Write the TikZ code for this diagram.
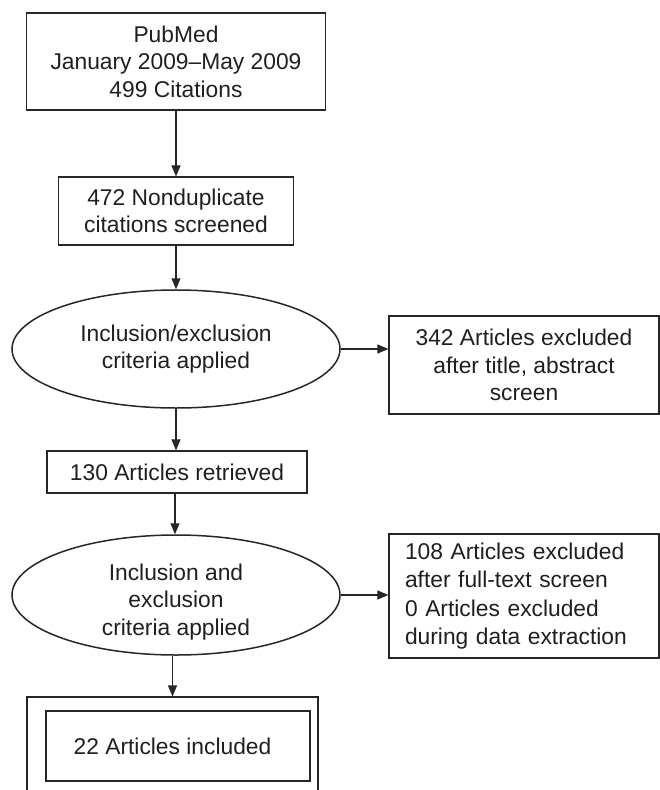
\documentclass[tikz,border=0pt]{standalone}
\usepackage{fontspec}
\setmainfont{Liberation Sans}
\usetikzlibrary{arrows.meta,shapes.geometric}
\begin{document}
\begin{tikzpicture}[x=1pt,y=-1pt,
  txt/.style={font=\fontsize{22.8}{27.5}\selectfont, text=black!88},
  box/.style={txt, draw=black!85, line width=1.2pt, rectangle, inner sep=0pt, align=center},
  ell/.style={draw=black!85, ellipse, line width=1.5pt, inner sep=0pt},
  arr/.style={draw=black!85, line width=1.1pt, -{Triangle[length=11pt,width=9pt]}}]
\useasboundingbox (0,0) rectangle (660,790);
\clip (0,0) rectangle (660,790);
% main column
\node[box, minimum width=299pt, minimum height=97pt] (top) at (176,61.5)
  {PubMed\\January 2009–May 2009\\499 Citations};
\node[box, minimum width=235pt, minimum height=68pt] (scr) at (176,211)
  {472 Nonduplicate\\citations screened};
\node[ell, minimum width=328pt, minimum height=118pt, txt, align=center] (e1) at (176,349)
  {Inclusion/exclusion\\criteria applied};
\node[box, minimum width=260pt, minimum height=42pt] (ret) at (177,472)
  {130 Articles retrieved};
\node[ell, minimum width=328pt, minimum height=120pt] (e2) at (176,595) {};
\node[txt, align=center, inner sep=0pt] (e2t) at (176,602)
  {Inclusion and\\exclusion\\criteria applied};
\node[draw=black!85, line width=1.1pt, rectangle, minimum width=291pt, minimum height=98pt, inner sep=0pt] (outer) at (172.5,746) {};
\node[box, line width=1.8pt, minimum width=264pt, minimum height=70pt] (inc) at (178,746)
  {\hspace*{-11pt}22 Articles included};
% side boxes
\node[box, minimum width=270pt, minimum height=98pt] (x1) at (524,365)
  {342 Articles excluded\\after title, abstract\\screen};
\node[box, align=left, font=\fontsize{22.8}{28.5}\selectfont, inner xsep=16pt, text width=238pt, minimum height=124pt] (x2) at (524,596)
  {108 Articles excluded\\after full-text screen\\0 Articles excluded\\during data extraction};
% connectors
\draw[arr] (top.south) -- (scr.north);
\draw[arr] (scr.south) -- (e1.north);
\draw[arr] (e1.south) -- (ret.north -| e1.south);
\draw[arr] ([xshift=-2pt]ret.south) -- ([xshift=-1pt]e2.north);
\draw[arr] (outer.north |- e2.south) -- (outer.north);
\draw[arr] (e1.east) -- (e1.east -| x1.west);
\draw[arr] (e2.east) -- (e2.east -| x2.west);
\end{tikzpicture}
\end{document}
